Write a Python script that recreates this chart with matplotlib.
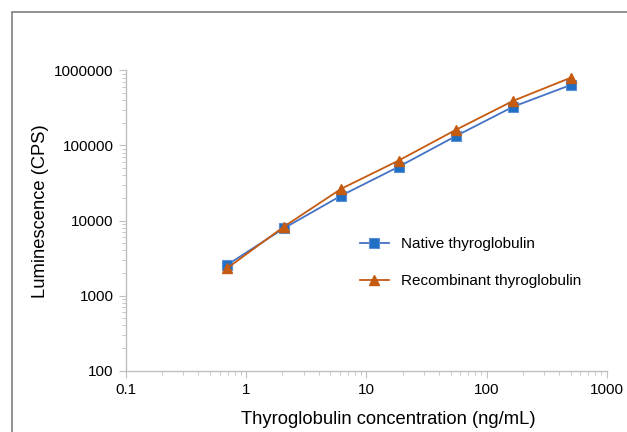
import matplotlib.pyplot as plt
from matplotlib.patches import Rectangle
from matplotlib.ticker import LogLocator, FuncFormatter, NullFormatter

plt.rcParams['font.family'] = ['Liberation Sans', 'DejaVu Sans']

# concentrations (ng/mL), 3-fold dilution series
conc = [0.69, 2.06, 6.17, 18.5, 55.6, 167, 500]
native = [2550, 7900, 21500, 52000, 134000, 330000, 640000]
recombinant = [2300, 8300, 26500, 63000, 162000, 395000, 800000]

labels = ['Native thyroglobulin', 'Recombinant thyroglobulin']
colors = ['#4472C4', '#C55A11']
marker_colors = ['#1F6FC5', '#C55A11']

fig = plt.figure(figsize=(6.27, 4.32), dpi=100)
ax = fig.add_axes([0.201, 0.142, 0.767, 0.695])

# outer chart border (Excel chart area)
fig.patches.append(Rectangle((12 / 627, -0.1), 1.2, 1.1 - 12.3 / 432,
                             transform=fig.transFigure, fill=False,
                             edgecolor='#7f7f7f', linewidth=1.2))

ax.plot(conc, native, color=colors[0], lw=1.3, marker='s', ms=7,
        mfc=marker_colors[0], mec='#5b8fd6', mew=0.8, label=labels[0])
ax.plot(conc, recombinant, color=colors[1], lw=1.3, marker='^', ms=7.5,
        mfc=marker_colors[1], mec=marker_colors[1], label=labels[1])

ax.set_xscale('log')
ax.set_yscale('log')
ax.set_xlim(0.1, 1000)
ax.set_ylim(100, 1000000)

fmt = FuncFormatter(lambda v, p: ('%g' % v) if v < 1 else '%d' % round(v))
ax.xaxis.set_major_locator(LogLocator(base=10, numticks=10))
ax.yaxis.set_major_locator(LogLocator(base=10, numticks=10))
ax.xaxis.set_major_formatter(fmt)
ax.yaxis.set_major_formatter(fmt)
ax.xaxis.set_minor_locator(LogLocator(base=10, subs=range(2, 10), numticks=20))
ax.yaxis.set_minor_locator(LogLocator(base=10, subs=range(2, 10), numticks=20))
ax.xaxis.set_minor_formatter(NullFormatter())
ax.yaxis.set_minor_formatter(NullFormatter())

for s in ['top', 'right']:
    ax.spines[s].set_visible(False)
for s in ['left', 'bottom']:
    ax.spines[s].set_color('#bfbfbf')
    ax.spines[s].set_linewidth(1)
ax.tick_params(which='major', length=5, color='#bfbfbf', labelsize=11,
               labelcolor='black', pad=4)
ax.tick_params(which='minor', length=3, color='#bfbfbf')

ax.set_xlabel('Thyroglobulin concentration (ng/mL)', fontsize=13.2)
ax.set_ylabel('Luminescence (CPS)', fontsize=13.2)
ax.xaxis.set_label_coords(0.545, -0.135)
ax.yaxis.set_label_coords(-0.16, 0.532)

ax.legend(loc='upper left', bbox_to_anchor=(0.457, 0.49), frameon=False,
          fontsize=11, handlelength=1.9, labelspacing=1.5, handletextpad=0.8)

fig.savefig('out.png', dpi=100)
